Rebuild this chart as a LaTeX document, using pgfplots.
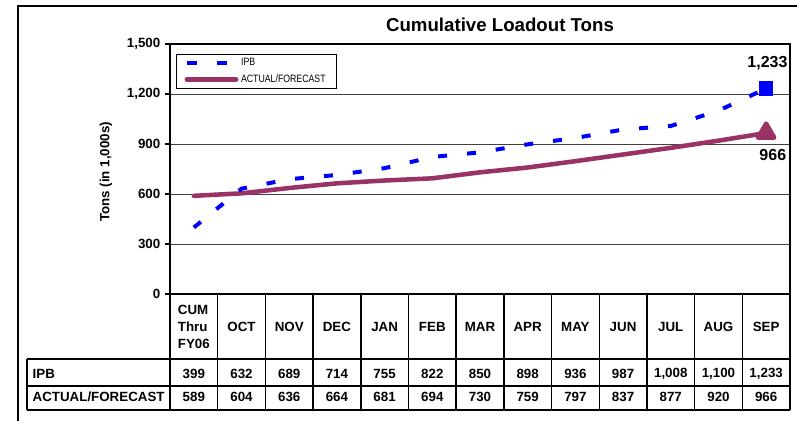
\documentclass[border=0pt]{standalone}
\usepackage{fontspec}
\setmainfont{Liberation Sans}
\newfontfamily\narrowfont[FakeStretch=0.82]{Liberation Sans}
\usepackage{pgfplots}
\pgfplotsset{compat=1.18}
\definecolor{ipbblue}{HTML}{0000FF}
\definecolor{actmaroon}{HTML}{993366}
\begin{document}
\begin{tikzpicture}
\begin{scope}[x=0.75pt,y=-0.75pt]
\path[use as bounding box] (0,0) rectangle (797,421);
\draw[line width=1.1pt] (18,421) -- (18,6) -- (797,6);
\node[font=\bfseries\fontsize{14}{16}\selectfont] at (500,25) {Cumulative Loadout Tons};
\node[font=\bfseries\fontsize{10}{12}\selectfont, rotate=90] at (106,172) {Tons (in 1,000s)};
\end{scope}
\begin{axis}[
  at={(127.5pt,-220.5pt)}, anchor=south west,
  width=465pt, height=187.5pt, scale only axis,
  xmin=-0.5, xmax=12.5, ymin=0, ymax=1500,
  ytick={0,300,...,1500},
  xtick={0,...,12},
  xticklabels={{CUM\\Thru\\FY06},OCT,NOV,DEC,JAN,FEB,MAR,APR,MAY,JUN,JUL,AUG,SEP},
  x tick label style={align=left, anchor=center, yshift=-21pt, font=\bfseries\fontsize{10}{12.75}\selectfont},
  x tick style={draw=none},
  ytick pos=left,
  tick align=outside, major tick length=3.75pt,
  y tick style={black, line width=0.8pt},
  y tick label style={font=\bfseries\fontsize{10}{12}\selectfont},
  /pgf/number format/assume math mode=true,
  /pgf/number format/1000 sep={,},
  ymajorgrids, grid style={black!75, line width=0.6pt},
  axis line style={line width=1.3pt},
  clip=false,
  reverse legend,
  legend style={at={(0.0097,0.96)}, anchor=north west, draw=black, line width=0.8pt,
    font=\narrowfont\fontsize{8}{9}\selectfont, inner xsep=6pt, inner ysep=1pt, row sep=1pt},
  legend cell align=left,
]
\addplot[actmaroon, line width=3.4pt, line cap=round, line join=round,
  mark=triangle*, mark indices={13}, mark size=7pt, mark options={solid},
  legend image code/.code={\draw[actmaroon, line width=3.4pt, line cap=round] (0pt,0pt) -- (37pt,0pt);}]
  coordinates {(0,589)(1,604)(2,636)(3,664)(4,681)(5,694)(6,730)(7,759)(8,797)(9,837)(10,877)(11,920)(12,966)};
\addlegendentry{ACTUAL/FORECAST}
\addplot[ipbblue, line width=3pt, dash pattern=on 6.75pt off 15pt,
  mark=square*, mark indices={13}, mark size=3.9pt, mark options={solid},
  legend image code/.code={\draw[ipbblue, line width=3pt, dash pattern=on 7.5pt off 15pt] (0pt,0pt) -- (37pt,0pt);}]
  coordinates {(0,399)(1,632)(2,689)(3,714)(4,755)(5,822)(6,850)(7,898)(8,936)(9,987)(10,1008)(11,1100)(12,1233)};
\addlegendentry{IPB}
\node[font=\bfseries\fontsize{12}{14}\selectfont, anchor=south] at (axis cs:12,1233) [yshift=10pt, xshift=1pt] {1,233};
\node[font=\bfseries\fontsize{12}{14}\selectfont, anchor=north] at (axis cs:12,966) [yshift=-9pt, xshift=5pt] {966};
\end{axis}
\begin{scope}[x=0.75pt,y=-0.75pt]
\foreach \k in {0,...,13} \draw[line width=1.1pt] ({170+47.6923*\k},294) -- ({170+47.6923*\k},410);
\draw[line width=1.1pt] (27,359) -- (790,359);
\draw[line width=1.1pt] (27,386) -- (790,386);
\draw[line width=1.1pt] (27,410) -- (790,410);
\draw[line width=1.1pt] (27,359) -- (27,410);
\node[anchor=west, font=\bfseries\fontsize{10}{12}\selectfont] at (28,374) {IPB};
\node[anchor=west, font=\bfseries\fontsize{10}{12}\selectfont] at (28,397) {ACTUAL/FORECAST};
\foreach \v [count=\i from 0] in {399,632,689,714,755,822,850,898,936,987,{1,008},{1,100},{1,233}}
  \node[font=\bfseries\fontsize{10}{12}\selectfont] at ({170+47.6923*\i+23.846},374) {\v};
\foreach \v [count=\i from 0] in {589,604,636,664,681,694,730,759,797,837,877,920,966}
  \node[font=\bfseries\fontsize{10}{12}\selectfont] at ({170+47.6923*\i+23.846},397) {\v};
\end{scope}
\end{tikzpicture}
\end{document}
